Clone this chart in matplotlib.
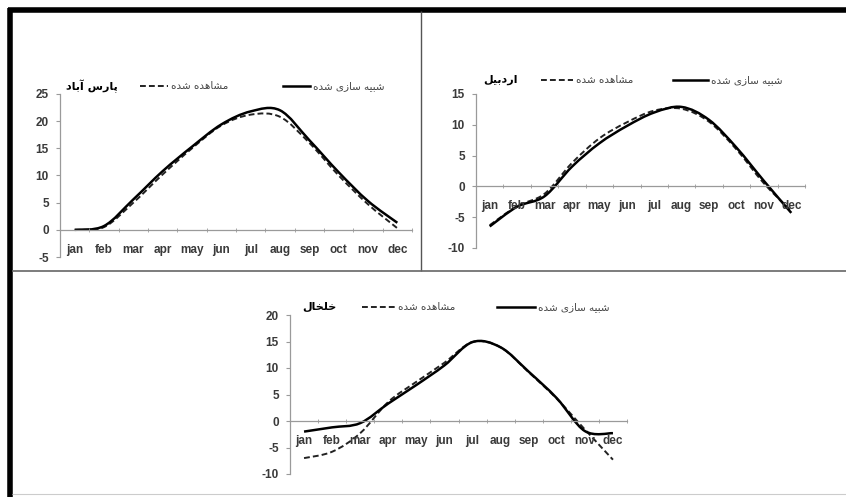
import numpy as np
import matplotlib
matplotlib.use('Agg')
import matplotlib.pyplot as plt
from matplotlib.path import Path
from matplotlib.patches import PathPatch
from matplotlib.lines import Line2D

months = ['jan', 'feb', 'mar', 'apr', 'may', 'jun', 'jul', 'aug', 'sep', 'oct', 'nov', 'dec']

# پارس آباد
pars_sim = [0.0, 0.7, 5.6, 10.8, 15.3, 19.4, 21.8, 22.0, 16.5, 10.6, 5.3, 1.3]
pars_obs = [0.0, 0.5, 5.0, 10.2, 15.0, 19.2, 21.2, 20.8, 16.0, 10.0, 4.7, 0.3]
pars_ticks = [-5, 0, 5, 10, 15, 20, 25]

# اردبیل
ardabil_sim = [-6.5, -3.3, -1.6, 3.2, 7.0, 9.8, 12.0, 12.9, 10.8, 6.3, 0.9, -4.3]
ardabil_obs = [-6.3, -3.2, -1.2, 3.8, 7.8, 10.4, 12.3, 12.6, 10.5, 6.0, 0.5, -4.0]
ardabil_ticks = [-10, -5, 0, 5, 10, 15]

# خلخال
khal_sim = [-2.0, -1.2, -0.4, 3.3, 6.8, 10.5, 14.9, 13.9, 9.3, 4.3, -1.9, -2.3]
khal_obs = [-7.0, -5.8, -2.3, 3.6, 7.4, 11.0, 14.9, 13.9, 9.2, 4.2, -1.6, -7.3]
khal_ticks = [-10, -5, 0, 5, 10, 15, 20]

sim_label = 'شبیه سازی شده'
obs_label = 'مشاهده شده'

W, H = 846, 497

# presentation forms: isolated, final, initial, medial
FORMS = {
    'ا': ('\uFE8D', '\uFE8E', None, None),
    'آ': ('\uFE81', '\uFE82', None, None),
    'ب': ('\uFE8F', '\uFE90', '\uFE91', '\uFE92'),
    'پ': ('\uFB56', '\uFB57', '\uFB58', '\uFB59'),
    'خ': ('\uFEA5', '\uFEA6', '\uFEA7', '\uFEA8'),
    'د': ('\uFEA9', '\uFEAA', None, None),
    'ر': ('\uFEAD', '\uFEAE', None, None),
    'ز': ('\uFEAF', '\uFEB0', None, None),
    'س': ('\uFEB1', '\uFEB2', '\uFEB3', '\uFEB4'),
    'ش': ('\uFEB5', '\uFEB6', '\uFEB7', '\uFEB8'),
    'ل': ('\uFEDD', '\uFEDE', '\uFEDF', '\uFEE0'),
    'م': ('\uFEE1', '\uFEE2', '\uFEE3', '\uFEE4'),
    'ه': ('\uFEE9', '\uFEEA', '\uFEEB', '\uFEEC'),
    'ی': ('\uFBFC', '\uFBFD', '\uFBFE', '\uFBFF'),
}


def shape_fa(text):
    out = []
    for i, ch in enumerate(text):
        if ch not in FORMS:
            out.append(ch)
            continue
        prev = text[i - 1] if i > 0 else ''
        nxt = text[i + 1] if i + 1 < len(text) else ''
        join_prev = prev in FORMS and FORMS[prev][2] is not None
        join_next = FORMS[ch][2] is not None and nxt in FORMS
        f = FORMS[ch]
        if join_prev and join_next:
            out.append(f[3])
        elif join_prev:
            out.append(f[1])
        elif join_next:
            out.append(f[2])
        else:
            out.append(f[0])
    return ''.join(reversed(out))


def smooth_path(x, y):
    pts = np.column_stack([np.asarray(x, float), np.asarray(y, float)])
    ext = np.vstack([pts[0], pts, pts[-1]])
    verts = [pts[0]]
    codes = [Path.MOVETO]
    for i in range(len(pts) - 1):
        p0, p1, p2, p3 = ext[i], ext[i + 1], ext[i + 2], ext[i + 3]
        verts += [p1 + (p2 - p0) / 6, p2 - (p3 - p1) / 6, p2]
        codes += [Path.CURVE4] * 3
    return Path(verts, codes)


fig = plt.figure(figsize=(W / 100, H / 100), dpi=100)
fig.patch.set_facecolor('white')


def fx(x):
    return x / W


def fy(y):
    return 1 - y / H


def frame_line(x0, y0, x1, y1, lw, color):
    fig.add_artist(Line2D([fx(x0), fx(x1)], [fy(y0), fy(y1)], transform=fig.transFigure,
                          lw=lw, color=color, solid_capstyle='butt'))


def panel(box, sim, obs, yticks, title, leg):
    l, r, t, b = box
    ax = fig.add_axes([fx(l), fy(b), (r - l) / W, (b - t) / H])
    x = np.arange(len(months))
    ax.add_patch(PathPatch(smooth_path(x, obs), fill=False, lw=1.4, color='#222222',
                           linestyle=(0, (3, 1.6))))
    ax.add_patch(PathPatch(smooth_path(x, sim), fill=False, lw=1.8, color='black'))
    ax.set_xlim(-0.5, len(months) - 0.5)
    ax.set_ylim(yticks[0], yticks[-1])
    ax.set_facecolor('none')
    for s in ['top', 'right']:
        ax.spines[s].set_visible(False)
    ax.spines['bottom'].set_position(('data', 0))
    for s in ['left', 'bottom']:
        ax.spines[s].set_color('#9a9a9a')
        ax.spines[s].set_linewidth(0.9)
    ax.set_yticks(yticks)
    ax.set_yticklabels([str(v) for v in yticks])
    ax.set_xticks(x)
    ax.set_xticklabels(months)
    ax.set_xticks(np.arange(len(months) + 1) - 0.5, minor=True)
    ax.tick_params(axis='x', which='major', length=0, pad=10)
    ax.tick_params(axis='x', which='minor', length=3, direction='inout', color='#9a9a9a')
    ax.tick_params(axis='y', length=3, color='#9a9a9a', pad=5)
    for lab in ax.get_xticklabels() + ax.get_yticklabels():
        lab.set_fontfamily('Liberation Sans')
        lab.set_fontweight('bold')
        lab.set_fontsize(8.5)
        lab.set_color('#3a3a3a')

    ly, tx, d0, d1, ox, s0, s1, sx = leg
    fig.text(fx(tx), fy(ly), shape_fa(title), family=['DejaVu Sans'], weight='bold',
             fontsize=8, color='black', ha='left', va='center')
    fig.add_artist(Line2D([fx(d0), fx(d1)], [fy(ly), fy(ly)], transform=fig.transFigure,
                          lw=1.4, color='#222222', linestyle=(0, (3, 1.6))))
    fig.text(fx(ox), fy(ly), shape_fa(obs_label), family=['DejaVu Sans'],
             fontsize=7.5, color='#444444', ha='left', va='center')
    fig.add_artist(Line2D([fx(s0), fx(s1)], [fy(ly), fy(ly)], transform=fig.transFigure,
                          lw=1.8, color='black'))
    fig.text(fx(sx), fy(ly), shape_fa(sim_label), family=['DejaVu Sans'],
             fontsize=7.5, color='#444444', ha='left', va='center')
    return ax


panel((60, 412, 94, 257), pars_sim, pars_obs, pars_ticks, 'پارس آباد',
      (86, 66, 140, 168, 171, 283, 310, 313))
panel((476, 805, 94, 248), ardabil_sim, ardabil_obs, ardabil_ticks, 'اردبیل',
      (80, 483, 541, 573, 576, 673, 708, 711))
panel((290, 627, 315, 474), khal_sim, khal_obs, khal_ticks, 'خلخال',
      (307, 302, 362, 396, 398, 497, 535, 538))

# outer frame and dividers
frame_line(8, 9.5, 846, 9.5, 4, 'black')
frame_line(10, 8, 10, 497, 4, 'black')
frame_line(421, 11, 421, 271, 1.0, '#555555')
frame_line(12, 271, 846, 271, 1.2, '#666666')
frame_line(12, 494, 846, 494, 0.8, '#cccccc')

fig.savefig('out.png', dpi=100, facecolor='white')
